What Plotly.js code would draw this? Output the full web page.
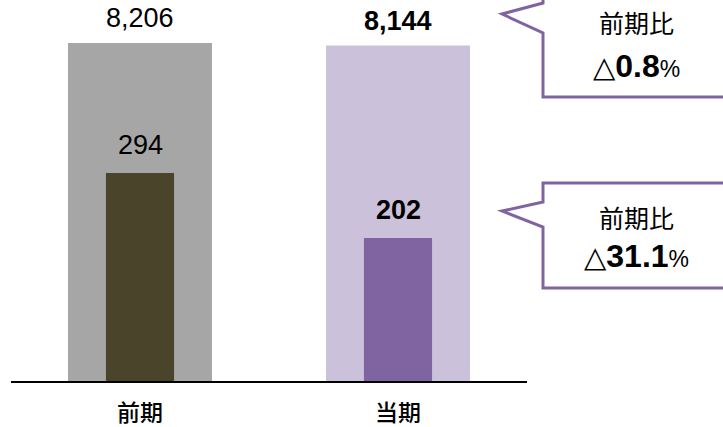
<!DOCTYPE html>
<html>
<head>
<meta charset="utf-8">
<script src="https://cdn.plot.ly/plotly-3.0.1.min.js"></script>
<style>html,body{margin:0;padding:0;background:#fff;}</style>
</head>
<body>
<div id="chart" style="width:723px;height:427px;"></div>
<script>
// ---- data ----
const categories = ['前期', '当期'];
const totalValues = [8206, 8144];
const subValues = [294, 202];
const totalColors = ['#A6A6A6', '#CCC1DA'];
const subColors = ['#4A452A', '#8064A2'];
const boldLabel = [false, true];
const calloutTitle = ['前期比', '前期比'];
const calloutChange = ['0.8', '31.1'];

// ---- layout helpers (pixel -> paper) ----
const W = 723, H = 427;
const M = {l: 11, r: 196, t: 0, b: 46};
const PW = W - M.l - M.r, PH = H - M.t - M.b;
const px = x => (x - M.l) / PW;
const py = y => (H - M.b - y) / PH;
const path = pts => 'M ' + pts.map(p => px(p[0]).toFixed(5) + ' ' + py(p[1]).toFixed(5)).join(' L ') + ' Z';

const fmt = (v, b) => b ? '<b>' + v.toLocaleString('en-US') + '</b>' : v.toLocaleString('en-US');

const traces = [
  {type: 'bar', x: categories, y: totalValues, yaxis: 'y', width: 0.558,
   marker: {color: totalColors, line: {width: 0}}, hoverinfo: 'skip'},
  {type: 'bar', x: categories, y: subValues, yaxis: 'y2', width: 0.264,
   marker: {color: subColors, line: {width: 0}}, hoverinfo: 'skip'}
];

const numFont = {family: 'Liberation Sans, Arial, sans-serif', size: 27, color: '#000'};
const annotations = [];
categories.forEach((c, i) => {
  annotations.push({xref: 'x', yref: 'y', x: c, y: totalValues[i], yanchor: 'middle', yshift: 25,
    text: fmt(totalValues[i], boldLabel[i]), showarrow: false, font: numFont});
  annotations.push({xref: 'x', yref: 'y2', x: c, y: subValues[i], yanchor: 'middle', yshift: 28,
    text: fmt(subValues[i], boldLabel[i]), showarrow: false, font: Object.assign({}, numFont, {size: 27})});
});

// callouts
const calloutPos = [{x: 636, y1: 22, y2: 66}, {x: 636, y1: 217, y2: 256}];
calloutPos.forEach((p, i) => {
  annotations.push({xref: 'paper', yref: 'paper', x: px(p.x), y: py(p.y1), xanchor: 'center', yanchor: 'middle',
    text: calloutTitle[i], showarrow: false,
    font: {family: 'Noto Sans CJK JP, sans-serif', size: 25, color: '#000'}});
  annotations.push({xref: 'paper', yref: 'paper', x: px(p.x), y: py(p.y2), xanchor: 'center', yanchor: 'middle',
    text: '<span style="font-family:DejaVu Sans;font-size:29px">△</span><b>' + calloutChange[i] + '</b><span style="font-size:23px">%</span>',
    showarrow: false,
    font: {family: 'Liberation Sans, DejaVu Sans, sans-serif', size: 32, color: '#000'}});
});

const shapes = [
  {type: 'path', xref: 'paper', yref: 'paper', layer: 'above',
   path: path([[730, -5], [543, -5], [543, 3], [502, 14], [543, 33], [543, 97], [730, 97]]),
   line: {color: '#8064A2', width: 3}, fillcolor: '#FFFFFF'},
  {type: 'path', xref: 'paper', yref: 'paper', layer: 'above',
   path: path([[730, 183], [543, 183], [543, 202], [502, 211], [543, 227], [543, 288], [730, 288]]),
   line: {color: '#8064A2', width: 3}, fillcolor: '#FFFFFF'}
];

const layout = {
  width: W, height: H,
  margin: M,
  paper_bgcolor: '#FFFFFF', plot_bgcolor: '#FFFFFF',
  showlegend: false,
  barmode: 'overlay',
  xaxis: {type: 'category', range: [-0.5, 1.5], showline: true, linecolor: '#000', linewidth: 2,
    showgrid: false, zeroline: false, ticks: '', fixedrange: true, ticklabelstandoff: 10,
    tickfont: {family: 'Noto Sans CJK JP, sans-serif', size: 23, weight: 500, color: '#000'}},
  yaxis: {range: [0, 9250], visible: false, showgrid: false, zeroline: false, fixedrange: true},
  yaxis2: {range: [0, 538.5], overlaying: 'y', visible: false, showgrid: false, zeroline: false, fixedrange: true},
  annotations: annotations,
  shapes: shapes
};

Plotly.newPlot('chart', traces, layout, {displayModeBar: false, staticPlot: true});
</script>
</body>
</html>
